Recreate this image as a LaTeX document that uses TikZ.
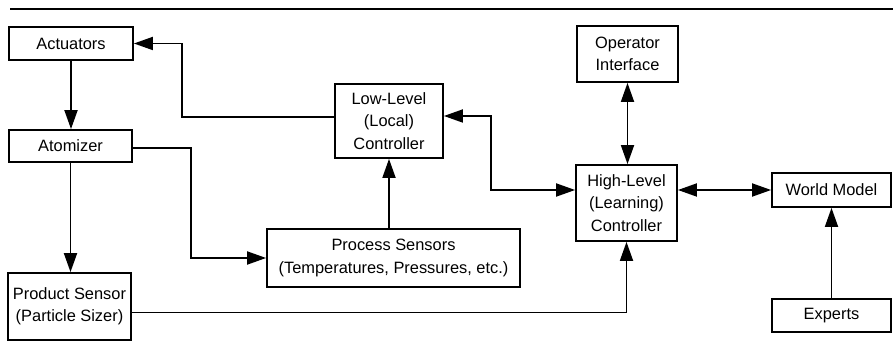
\documentclass[tikz,border=0pt]{standalone}
\usepackage{fontspec}
\setmainfont{Liberation Sans}
\usetikzlibrary{arrows.meta, positioning}

\begin{document}
\begin{tikzpicture}[
    x=0.5pt, y=-0.5pt,
    line width=0.9pt,
    >={Triangle[length=9.5pt,width=6.5pt]},
    block/.style 2 args={draw, align=center, inner sep=0pt,
        minimum width=#1, minimum height=#2,
        font=\fontsize{8.2}{11.2}\selectfont}
]

\useasboundingbox (0,0) rectangle (893,341);
\draw[line width=1.4pt] (10,9) -- (893,9);

% left column
\node[block={62pt}{16.5pt}] (act) at (71,43.5) {Actuators};
\node[block={61.5pt}{16pt}] (atom) at (70.5,146) {Atomizer};
\node[block={61.5pt}{33.5pt}] (prod) at (69.5,306.5) {Product Sensor\\(Particle Sizer)};

% middle
\node[block={54pt}{37pt}] (low) at (389,121) {Low-Level\\(Local)\\Controller};
\node[block={126.5pt}{29pt}] (proc) at (393.5,258) {Process Sensors\\(Temperatures, Pressures, etc.)};

% right
\node[block={50.5pt}{28pt}] (oper) at (627.5,54) {Operator\\Interface};
\node[block={50.5pt}{38pt}] (high) at (626.5,203) {High-Level\\(Learning)\\Controller};
\node[block={59.5pt}{17pt}] (world) at (831.5,190) {World Model};
\node[block={59.5pt}{16.5pt}] (exp) at (831.5,315.5) {Experts};

\draw[->] ([yshift=2pt]low.west) -- ++(-152,0) |- (act.east);
\draw[->] (act.south) -- (act.south |- atom.north);
\draw[->] (atom.south) -- (atom.south |- prod.north);
\draw[->] ([yshift=-1pt]atom.east) -- ++(58,0) |- (proc.west);
\draw[->] (proc.north -| low.south) -- (low.south);
\draw[<->] ([yshift=2.5pt]low.east) -- ++(47,0) |- (high.west |- world.west);
\draw[<->] (oper.south) -- (oper.south |- high.north);
\draw[<->] (high.east |- world.west) -- (world.west);
\draw[->] (exp.north) -- (world.south);
\draw[->] ([yshift=-3pt]prod.east) -| (high.south);

\end{tikzpicture}
\end{document}
